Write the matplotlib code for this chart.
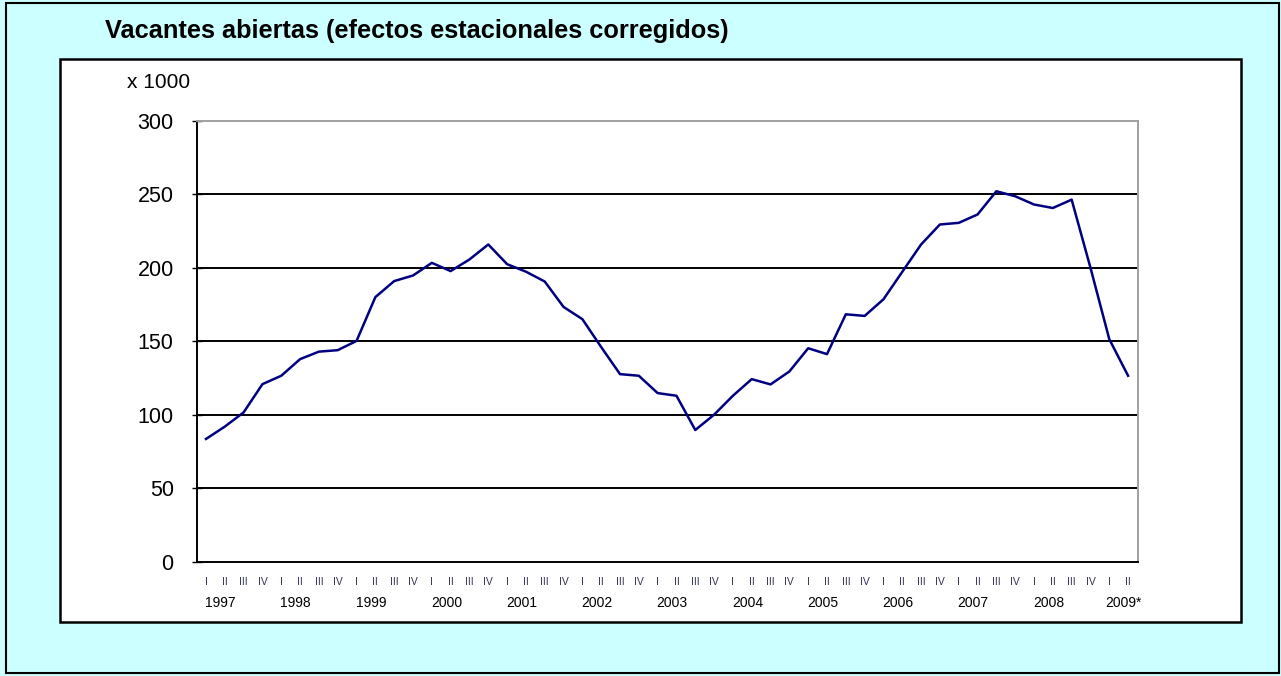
import matplotlib
matplotlib.use("Agg")
import matplotlib.pyplot as plt
from matplotlib.patches import Rectangle
from matplotlib.transforms import blended_transform_factory

plt.rcParams['font.family'] = ['Liberation Sans', 'DejaVu Sans']

title = "Vacantes abiertas (efectos estacionales corregidos)"
unit_label = "x 1000"
years = ["1997", "1998", "1999", "2000", "2001", "2002", "2003",
         "2004", "2005", "2006", "2007", "2008", "2009*"]
quarter_names = ["I", "II", "III", "IV"]
n_quarters = 50
quarters = [quarter_names[i % 4] for i in range(n_quarters)]
values = [83.5, 91.9, 101.6, 120.8, 126.5, 137.8, 142.9, 143.9, 150.2, 180.0,
          190.9, 194.7, 203.3, 197.7, 205.6, 215.8, 202.4, 197.3, 190.6, 173.3,
          165.0, 146.0, 127.6, 126.5, 114.7, 112.9, 89.6, 100.0, 112.9, 124.2,
          120.6, 129.4, 145.2, 141.2, 168.3, 167.2, 178.5, 197.2, 215.8, 229.4,
          230.5, 236.2, 252.0, 248.6, 243.0, 240.6, 246.3, 200.0, 151.4, 126.5]
yticks = [0, 50, 100, 150, 200, 250, 300]

W, H = 1281, 676
fig = plt.figure(figsize=(W / 100, H / 100), dpi=100)
fig.patch.set_facecolor("#CCFFFF")

def fx(px):
    return px / W

def fy(py):
    return 1 - py / H

# outer border
fig.patches.append(Rectangle((fx(6), fy(673)), fx(1279) - fx(6), fy(3) - fy(673),
                             transform=fig.transFigure, fill=False,
                             edgecolor="black", linewidth=1.5, zorder=-2))
# chart box
fig.patches.append(Rectangle((fx(60), fy(622)), fx(1241) - fx(60), fy(59) - fy(622),
                             transform=fig.transFigure, facecolor="white",
                             edgecolor="black", linewidth=1.8, zorder=-1))

fig.text(fx(105), fy(31), title, fontsize=18.3, fontweight="bold",
         ha="left", va="center")
fig.text(fx(127), fy(83), unit_label, fontsize=15, ha="left", va="center")

left, right, top, bottom = 196.6, 1137.5, 120.7, 561.7
ax = fig.add_axes([fx(left), fy(bottom), fx(right) - fx(left), fy(top) - fy(bottom)])
ax.set_zorder(2)
ax.set_facecolor("white")

x = list(range(n_quarters))
ax.plot(x, values, color="#000080", linewidth=1.8, zorder=3)

ax.set_xlim(-0.5, n_quarters - 0.5)
ax.set_ylim(0, 300)
ax.set_yticks(yticks)
ax.set_yticklabels([str(v) for v in yticks], fontsize=15.5)
for v in yticks[1:-1]:
    ax.axhline(v, color="black", linewidth=1.4, zorder=1)

ax.set_xticks(x)
ax.set_xticklabels(quarters, fontsize=7.5, color="#333355")
ax.tick_params(axis="x", length=0, pad=11)
ax.tick_params(axis="y", direction="inout", length=7, width=1, pad=13)

for s in ["left", "bottom"]:
    ax.spines[s].set_color("black")
    ax.spines[s].set_linewidth(1.4)
for s in ["top", "right"]:
    ax.spines[s].set_color("#A0A0A0")
    ax.spines[s].set_linewidth(1.4)

trans = blended_transform_factory(ax.transData, fig.transFigure)
for i, yr in enumerate(years):
    ax.text(4 * i + 0.77, fy(603), yr, transform=trans, fontsize=10,
            ha="center", va="center")

fig.savefig("out.png", dpi=100, facecolor=fig.get_facecolor())
